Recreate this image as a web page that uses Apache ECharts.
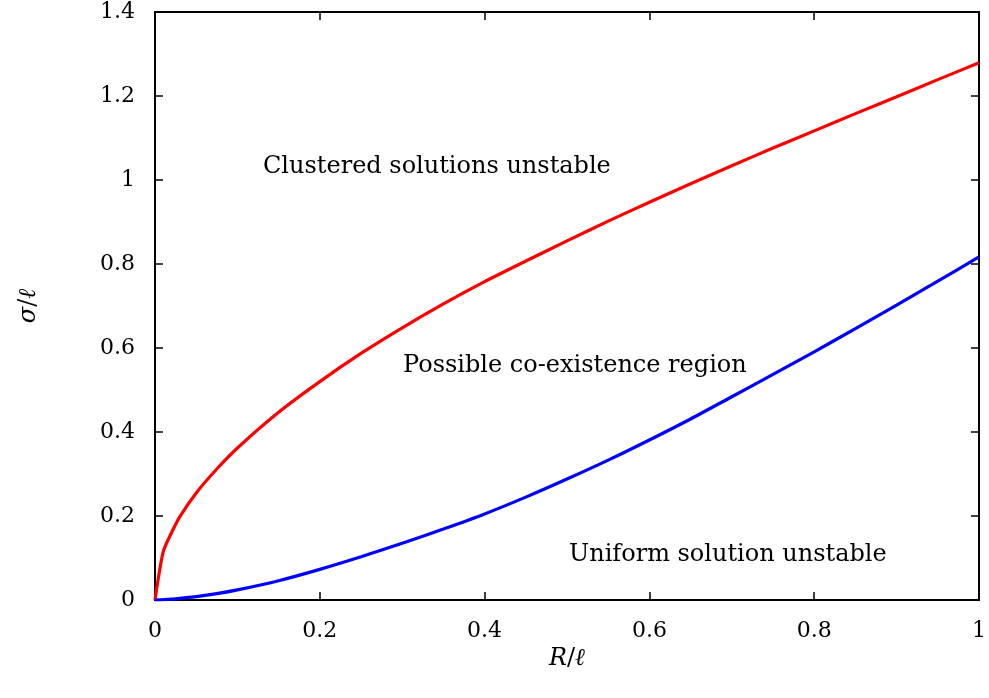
<!DOCTYPE html>
<html>
<head>
<meta charset="utf-8">
<script src="https://cdn.jsdelivr.net/npm/echarts@6/dist/echarts.min.js"></script>
<style>
  html, body { margin: 0; padding: 0; background: #fff; }
  #chart { width: 989px; height: 698px; }
</style>
</head>
<body>
<div id="chart"></div>
<script>
// values
var xs = [0, 0.01, 0.02, 0.03, 0.05, 0.075, 0.1, 0.15, 0.2, 0.25, 0.3, 0.35, 0.4, 0.45, 0.5, 0.55, 0.6, 0.65, 0.7, 0.75, 0.8, 0.85, 0.9, 0.95, 1.0];
var clustered = [0, 0.115, 0.16, 0.198, 0.255, 0.312, 0.362, 0.447, 0.52, 0.587, 0.648, 0.705, 0.758, 0.807, 0.855, 0.902, 0.947, 0.991, 1.034, 1.076, 1.117, 1.158, 1.198, 1.239, 1.279];
var uniform = [0, 0.0008, 0.002, 0.004, 0.008, 0.015, 0.024, 0.046, 0.073, 0.103, 0.135, 0.169, 0.205, 0.245, 0.288, 0.333, 0.381, 0.431, 0.484, 0.537, 0.591, 0.646, 0.702, 0.759, 0.817];
var notes = ['Clustered solutions unstable', 'Possible co-existence region', 'Uniform solution unstable'];

var font = '"DejaVu Serif", "Liberation Serif", serif';

function pairs(a, b) {
    var out = [];
    for (var i = 0; i < a.length; i++) out.push([a[i], b[i]]);
    return out;
}

var chart = echarts.init(document.getElementById('chart'));

var axisLine = { show: true, onZero: false, lineStyle: { color: '#000', width: 2 } };
var tickIn = { show: true, inside: true, length: 8, lineStyle: { color: '#000', width: 1.5 } };
var nameStyle = { fontFamily: font, fontSize: 24, color: '#000',
    rich: { i: { fontFamily: font, fontSize: 24, fontStyle: 'italic', color: '#000' } } };

var option = {
    backgroundColor: '#fff',
    animation: false,
    grid: { left: 155, right: 9, top: 12, bottom: 98 },
    xAxis: [{
        type: 'value', min: 0, max: 1, interval: 0.2,
        axisLine: axisLine, axisTick: tickIn, splitLine: { show: false },
        axisLabel: { margin: 20, fontFamily: font, fontSize: 22, color: '#000' },
        name: '{i|R}/{i|ℓ}', nameLocation: 'middle', nameGap: 33, nameTextStyle: nameStyle
    }, {
        type: 'value', min: 0, max: 1, interval: 0.2, position: 'top',
        axisLine: axisLine, axisTick: tickIn, axisLabel: { show: false }, splitLine: { show: false }
    }],
    yAxis: [{
        type: 'value', min: 0, max: 1.4, interval: 0.2,
        axisLine: axisLine, axisTick: tickIn, splitLine: { show: false },
        axisLabel: { margin: 20, fontFamily: font, fontSize: 22, color: '#000' },
        name: '{i|σ}/{i|ℓ}', nameLocation: 'middle', nameGap: 114, nameTextStyle: nameStyle
    }, {
        type: 'value', min: 0, max: 1.4, interval: 0.2, position: 'right',
        axisLine: axisLine, axisTick: tickIn, axisLabel: { show: false }, splitLine: { show: false }
    }],
    series: [{
        type: 'line', data: pairs(xs, clustered), showSymbol: false, smooth: 0.25,
        lineStyle: { color: '#ff0000', width: 3.2 }, z: 3
    }, {
        type: 'line', data: pairs(xs, uniform), showSymbol: false, smooth: 0.25,
        lineStyle: { color: '#0000ff', width: 3.2 }, z: 3
    }],
    graphic: [
        { type: 'text', left: 263, top: 155, style: { text: notes[0], font: '24px ' + font, fill: '#000' } },
        { type: 'text', left: 403, top: 354, style: { text: notes[1], font: '24px ' + font, fill: '#000' } },
        { type: 'text', left: 569, top: 543, style: { text: notes[2], font: '24px ' + font, fill: '#000' } }
    ]
};

chart.setOption(option);
</script>
</body>
</html>
